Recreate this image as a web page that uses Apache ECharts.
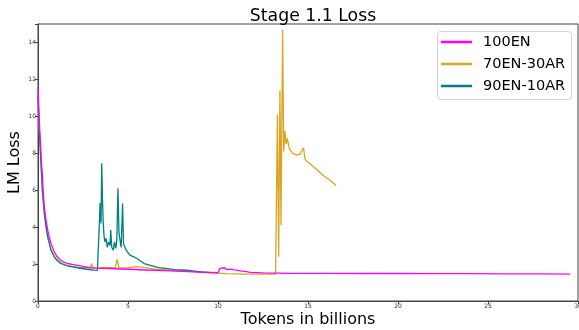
<!DOCTYPE html>
<html>
<head>
<meta charset="utf-8">
<script src="https://cdn.jsdelivr.net/npm/echarts@6/dist/echarts.min.js"></script>
<style>
  html, body { margin: 0; padding: 0; background: #fff; }
  #chart { width: 579px; height: 330px; }
</style>
</head>
<body>
<div id="chart"></div>
<script>
// Training loss curves, tokens (billions) vs LM loss
const seriesNames = ['100EN', '70EN-30AR', '90EN-10AR'];
const seriesColors = ['#ff00ff', '#daa520', '#008080'];

const tokens100EN = [0, 0.08, 0.15, 0.2, 0.24, 0.28, 0.35, 0.45, 0.54, 0.63, 0.72, 0.9, 1.05, 1.26, 1.45, 1.63, 1.9, 2.2, 2.5, 2.9, 3.2, 4.0, 5.0, 6.0, 7.0, 8.0, 9.0, 10.0, 10.1, 10.2, 10.35, 10.5, 10.7, 10.9, 11.1, 11.3, 11.5, 11.8, 12.5, 14, 16, 18, 20, 22, 24, 26, 28, 29.55];
const loss100EN   = [11.5, 9.6, 8.35, 7.4, 6.9, 6.1, 5.1, 4.35, 3.84, 3.45, 3.13, 2.66, 2.42, 2.2, 2.1, 2.03, 1.98, 1.93, 1.87, 1.8, 1.78, 1.76, 1.72, 1.68, 1.64, 1.6, 1.56, 1.53, 1.75, 1.65, 1.8, 1.7, 1.72, 1.68, 1.66, 1.62, 1.6, 1.55, 1.52, 1.5, 1.5, 1.49, 1.49, 1.48, 1.48, 1.47, 1.47, 1.46];

const tokens70EN30AR = [0, 0.08, 0.15, 0.24, 0.35, 0.45, 0.54, 0.72, 0.9, 1.05, 1.26, 1.63, 2.2, 2.6, 2.9, 2.98, 3.05, 3.3, 3.6, 4.0, 4.3, 4.4, 4.5, 4.7, 5.0, 5.1, 5.5, 5.9, 6.5, 7.6, 8.5, 9.5, 10.5, 11.5, 12.5, 13.2, 13.26, 13.3, 13.37, 13.44, 13.5, 13.59, 13.65, 13.72, 13.78, 13.85, 13.96, 14.15, 14.37, 14.55, 14.65, 14.75, 14.82, 14.89, 15.1, 15.39, 15.85, 16.2, 16.56];
const loss70EN30AR   = [10.9, 9.0, 7.7, 6.1, 4.8, 4.0, 3.5, 2.8, 2.42, 2.25, 2.06, 1.92, 1.82, 1.8, 1.8, 2.03, 1.8, 1.78, 1.82, 1.8, 1.82, 2.25, 1.8, 1.79, 1.8, 1.85, 1.86, 1.82, 1.72, 1.66, 1.6, 1.53, 1.48, 1.46, 1.45, 1.45, 1.5, 10.1, 2.4, 11.4, 4.1, 14.7, 8.1, 9.2, 8.5, 8.8, 8.25, 8.0, 7.9, 7.95, 7.85, 8.3, 7.75, 7.6, 7.45, 7.2, 6.8, 6.55, 6.25];

const tokens90EN10AR = [0, 0.08, 0.15, 0.24, 0.35, 0.45, 0.54, 0.72, 0.9, 1.05, 1.26, 1.63, 2.2, 2.7, 3.1, 3.3, 3.35, 3.4, 3.45, 3.5, 3.54, 3.58, 3.62, 3.67, 3.72, 3.78, 3.85, 3.92, 4.0, 4.04, 4.1, 4.18, 4.25, 4.32, 4.38, 4.44, 4.5, 4.56, 4.62, 4.7, 4.75, 4.9, 5.1, 5.3, 5.5, 5.9, 6.3, 6.7, 7.2, 7.6, 8.1, 8.2, 8.3, 8.7, 9.1, 9.5];
const loss90EN10AR   = [11.1, 9.1, 7.8, 6.0, 4.74, 4.0, 3.47, 2.75, 2.39, 2.2, 2.03, 1.9, 1.8, 1.72, 1.67, 1.66, 1.7, 4.0, 5.3, 4.2, 7.45, 5.6, 4.3, 3.5, 3.2, 3.4, 2.9, 3.2, 3.0, 3.84, 2.9, 2.75, 3.2, 2.85, 3.3, 6.1, 3.66, 3.7, 2.9, 5.28, 3.1, 2.75, 2.48, 2.4, 2.3, 2.03, 1.92, 1.81, 1.75, 1.7, 1.68, 1.76, 1.67, 1.62, 1.57, 1.55];

const xTickStep = 5, xMax = 30;
const yTickStep = 2, yMax = 15;

const pairs = (xs, ys) => xs.map((x, i) => [x, ys[i]]);
const seriesData = [
  pairs(tokens100EN, loss100EN),
  pairs(tokens70EN30AR, loss70EN30AR),
  pairs(tokens90EN10AR, loss90EN10AR)
];

const FONT = 'DejaVu Sans';
const chart = echarts.init(document.getElementById('chart'), null, { renderer: 'canvas' });

chart.setOption({
  animation: false,
  backgroundColor: '#ffffff',
  title: {
    text: 'Stage 1.1 Loss',
    left: 308,
    textAlign: 'center',
    top: 3,
    textStyle: { fontFamily: FONT, fontSize: 17.3, fontWeight: 'normal', color: '#000' }
  },
  // legend frame (rounded, light gray) drawn behind the legend entries
  graphic: [{
    type: 'rect',
    left: 437, top: 31, z: 90,
    shape: { width: 134, height: 68, r: 3 },
    style: { fill: '#fff', stroke: '#d4d4d4', lineWidth: 1 },
    silent: true
  }],
  legend: {
    orient: 'vertical',
    left: 437,
    top: 31,
    z: 100,
    padding: [3, 0, 5, 4],
    itemGap: 6,
    itemWidth: 31,
    itemHeight: 2.5,
    icon: 'rect',
    textStyle: { fontFamily: FONT, fontSize: 14.5, color: '#000', lineHeight: 16, padding: [0, 0, 0, 6] },
    data: seriesNames
  },
  grid: {
    left: 38, right: 1, top: 24, bottom: 29,
    containLabel: false,
    outerBoundsMode: 'none',
    show: true, borderColor: '#444', borderWidth: 1, backgroundColor: 'transparent'
  },
  xAxis: {
    type: 'value',
    min: 0, max: xMax, interval: xTickStep,
    name: 'Tokens in billions',
    nameLocation: 'middle',
    nameGap: 11,
    nameMoveOverlap: false,
    nameTextStyle: { fontFamily: FONT, fontSize: 16, color: '#000' },
    splitLine: { show: false },
    axisLine: { show: true, lineStyle: { color: '#444', width: 1 } },
    axisTick: { show: true, length: 3, lineStyle: { color: '#444' } },
    axisLabel: { fontFamily: FONT, fontSize: 6, color: '#333', margin: 2 }
  },
  yAxis: {
    type: 'value',
    min: 0, max: yMax, interval: yTickStep,
    name: 'LM Loss',
    nameLocation: 'middle',
    nameGap: 15,
    nameMoveOverlap: false,
    nameRotate: 90,
    nameTextStyle: { fontFamily: FONT, fontSize: 16, color: '#000' },
    splitLine: { show: false },
    axisLine: { show: true, lineStyle: { color: '#444', width: 1 } },
    axisTick: { show: true, length: 3, lineStyle: { color: '#444' } },
    axisLabel: {
      fontFamily: FONT, fontSize: 6, color: '#333', margin: 2,
      formatter: v => (v % yTickStep === 0 ? String(v) : '')
    }
  },
  series: seriesNames.map((name, i) => ({
    name,
    type: 'line',
    data: seriesData[i],
    showSymbol: false,
    symbol: 'none',
    color: seriesColors[i],
    lineStyle: { width: 1.3, color: seriesColors[i] },
    z: i === 0 ? 3 : 2
  }))
});
</script>
</body>
</html>
